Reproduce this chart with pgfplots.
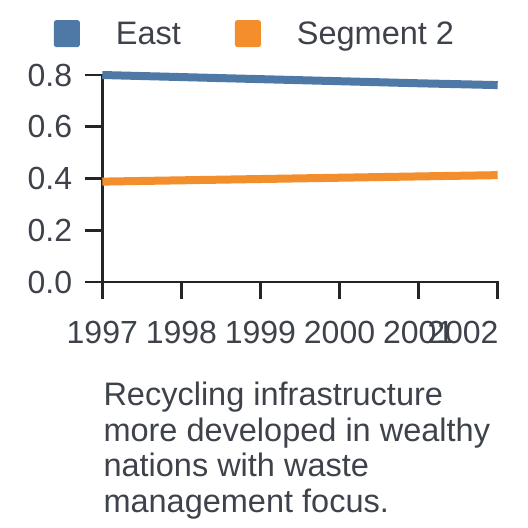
\documentclass[border=0pt]{standalone}
\usepackage{fontspec}
\setmainfont{Liberation Sans}
\usepackage{pgfplots}
\pgfplotsset{compat=1.18}
\definecolor{cBlue}{RGB}{78,121,167}
\definecolor{cOrange}{RGB}{242,142,43}
\definecolor{cText}{RGB}{62,66,74}
\definecolor{cAxis}{RGB}{34,36,40}
\begin{document}
\begin{tikzpicture}
\path (0pt,0pt) rectangle (528pt,528pt);
\begin{axis}[
  at={(102.3pt,246pt)}, anchor=south west,
  scale only axis, width=395.4pt, height=207pt,
  xmin=1997, xmax=2002, ymin=0, ymax=0.8,
  clip=false,
  axis x line*=bottom, axis y line*=left,
  axis line style={line width=2.7pt, color=cAxis, line cap=rect},
  tick style={line width=2.7pt, color=cAxis},
  tick align=outside, major tick length=17pt,
  xtick={1997,1998,1999,2000,2001},
  xticklabels={1997,1998,1999,2000,2001},
  extra x ticks={2002},
  extra x tick labels={2002},
  extra x tick style={xticklabel style={anchor=north east, xshift=1pt}},
  ytick={0,0.2,0.4,0.6,0.8},
  yticklabel style={/pgf/number format/fixed, /pgf/number format/fixed zerofill, /pgf/number format/precision=1},
  /pgf/number format/assume math mode=true,
  ticklabel style={font=\fontsize{32}{38}\selectfont, text=cText, inner sep=0pt},
  xticklabel style={yshift=-22pt},
  yticklabel style={xshift=-13pt},
  legend columns=2,
  legend style={draw=none, fill=none, inner sep=0pt, outer sep=0pt,
    at={(-0.1224,1.20)}, anchor=west,
    font=\fontsize{32.5}{38}\selectfont, text=cText,
    nodes={inner sep=0pt},
    /tikz/every even column/.append style={column sep=54pt}},
  legend image code/.code={\fill[#1, draw=none, rounded corners=2.5pt] (0pt,-13.5pt) rectangle (26pt,13.5pt); \path (58pt,0pt);},
]
\addplot[line width=8pt, color=cBlue] coordinates {
  (1997,0.800) (1998,0.792) (1999,0.784) (2000,0.776) (2001,0.768) (2002,0.761)};
\addlegendentry{East}
\addplot[line width=8pt, color=cOrange] coordinates {
  (1997,0.388) (1998,0.393) (1999,0.398) (2000,0.403) (2001,0.408) (2002,0.413)};
\addlegendentry{Segment 2}
\end{axis}
\node[anchor=north west, align=left, inner sep=0pt, text=cText,
  font=\fontsize{32.5}{35.6}\selectfont] at (103.3pt,146.3pt)
  {Recycling infrastructure\\more developed in wealthy\\nations with waste\\management focus.};
\end{tikzpicture}
\end{document}
